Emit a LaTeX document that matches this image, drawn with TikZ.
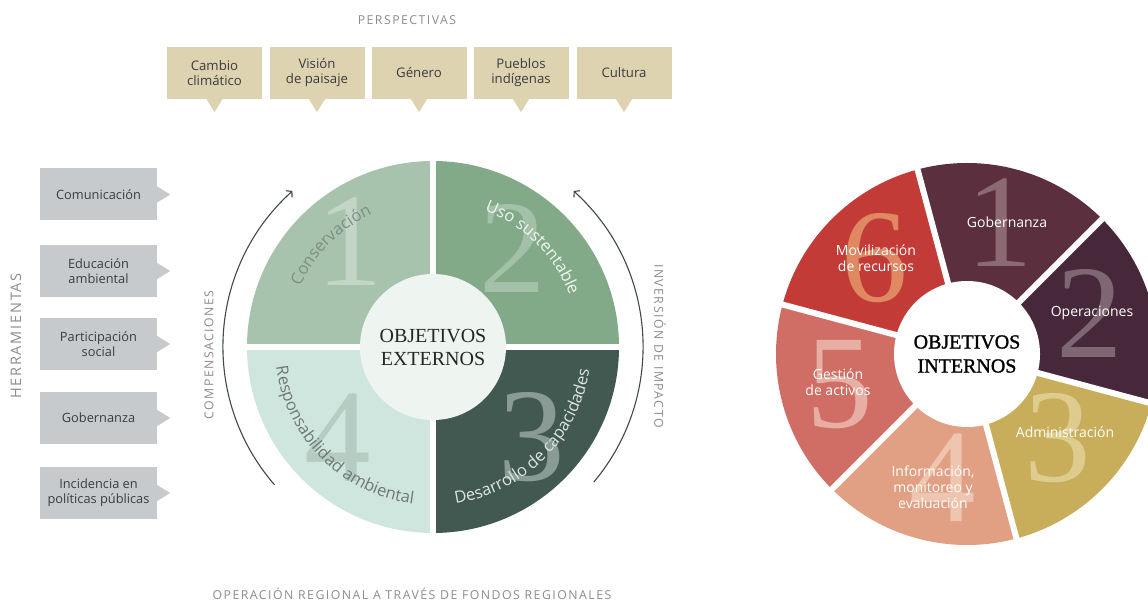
\documentclass[tikz,border=0pt]{standalone}
\usepackage{fontspec}
\setsansfont{Open Sans}
\newfontfamily\capsfont[LetterSpace=12]{Open Sans}
\newfontfamily\objfont{Liberation Serif}
\newfontfamily\objboldfont[FakeBold=1.2]{Liberation Serif}
\usetikzlibrary{positioning,calc,decorations.text,arrows.meta}

\definecolor{persbg}{HTML}{DDD3B1}
\definecolor{toolbg}{HTML}{C6CACD}
\definecolor{boxtext}{HTML}{3C3C3C}
\definecolor{captiongray}{HTML}{8C8C8C}
\definecolor{arrowgray}{HTML}{3E4A45}
\definecolor{objtext}{HTML}{262626}
% external wheel
\definecolor{extA}{HTML}{A8C3AD}
\definecolor{extB}{HTML}{82AA89}
\definecolor{extC}{HTML}{425952}
\definecolor{extD}{HTML}{CFE6DE}
\definecolor{extmid}{HTML}{EEF5F1}
\definecolor{numA}{HTML}{C3D5C6}
\definecolor{numB}{HTML}{A3C0A8}
\definecolor{numC}{HTML}{8A9B95}
\definecolor{numD}{HTML}{B5CCC3}
\definecolor{txtA}{HTML}{7F8E84}
\definecolor{txtB}{HTML}{F0F5F0}
\definecolor{txtC}{HTML}{DDE5E1}
\definecolor{txtD}{HTML}{6F7873}
% internal wheel
\definecolor{intA}{HTML}{5B2F3D}
\definecolor{intB}{HTML}{47283A}
\definecolor{intC}{HTML}{C8AE5A}
\definecolor{intD}{HTML}{E1A083}
\definecolor{intE}{HTML}{D06E66}
\definecolor{intF}{HTML}{C23B37}
\definecolor{inumA}{HTML}{8B6A73}
\definecolor{inumB}{HTML}{7E6773}
\definecolor{inumC}{HTML}{DDCC8E}
\definecolor{inumD}{HTML}{EEC6B0}
\definecolor{inumE}{HTML}{E7AEA3}
\definecolor{inumF}{HTML}{E08862}

\tikzset{
  persbox/.style={fill=persbg, minimum width=95pt, minimum height=52pt, inner sep=0pt,
    align=center, text=boxtext, font=\sffamily\fontsize{13.2}{15}\selectfont},
  toolbox/.style={fill=toolbg, minimum width=117pt, minimum height=52pt, inner sep=0pt,
    align=center, text=boxtext, font=\sffamily\fontsize{12.8}{15}\selectfont},
  caption/.style={text=captiongray, inner sep=0pt, font=\capsfont\fontsize{12.3}{14}\selectfont},
  numeral/.style={inner sep=0pt, font=\objfont\fontsize{133}{133}\selectfont},
  intlabel/.style={inner sep=0pt, align=center, text=white, font=\sffamily\fontsize{14}{16}\selectfont},
  gap/.style={white, line width=6pt},
  arcarrow/.style={arrowgray, line width=1.1pt, -{Straight Barb[length=4pt,width=9pt]}}
}

\begin{document}
\begin{tikzpicture}[x=1pt,y=1pt]
\useasboundingbox (0,0) rectangle (1148,603);

% Perspectivas
\node[caption] (pers) at (407,583) {PERSPECTIVAS};
\node[persbox] (p1) at (214.5,530) {Cambio\\climático};
\node[persbox] (p2) at (317,530) {Visión\\de paisaje};
\node[persbox] (p3) at (419,530) {Género};
\node[persbox] (p4) at (521,530) {Pueblos\\indígenas};
\node[persbox] (p5) at (624,530) {Cultura};
\fill[persbg] ([xshift=-8]p1.south) -- ([yshift=-13]p1.south) -- ([xshift=8]p1.south) -- cycle;
\fill[persbg] ([xshift=-8]p2.south) -- ([yshift=-13]p2.south) -- ([xshift=8]p2.south) -- cycle;
\fill[persbg] ([xshift=-8]p3.south) -- ([yshift=-13]p3.south) -- ([xshift=8]p3.south) -- cycle;
\fill[persbg] ([xshift=-8]p4.south) -- ([yshift=-13]p4.south) -- ([xshift=8]p4.south) -- cycle;
\fill[persbg] ([xshift=-8]p5.south) -- ([yshift=-13]p5.south) -- ([xshift=8]p5.south) -- cycle;

% Herramientas
\node[caption, rotate=90, font=\capsfont\fontsize{14.5}{16}\selectfont] (herr) at (16,267) {HERRAMIENTAS};
\node[toolbox] (t1) at (98.5,408.5) {Comunicación};
\node[toolbox] (t2) at (98.5,332) {Educación\\ambiental};
\node[toolbox] (t3) at (98.5,259) {Participación\\social};
\node[toolbox] (t4) at (98.5,185) {Gobernanza};
\node[toolbox] (t5) at (98.5,110) {Incidencia en\\políticas públicas};
\fill[toolbg] ([yshift=8]t1.east) -- ([xshift=13]t1.east) -- ([yshift=-8]t1.east) -- cycle;
\fill[toolbg] ([yshift=8]t2.east) -- ([xshift=13]t2.east) -- ([yshift=-8]t2.east) -- cycle;
\fill[toolbg] ([yshift=8]t3.east) -- ([xshift=13]t3.east) -- ([yshift=-8]t3.east) -- cycle;
\fill[toolbg] ([yshift=8]t4.east) -- ([xshift=13]t4.east) -- ([yshift=-8]t4.east) -- cycle;
\fill[toolbg] ([yshift=8]t5.east) -- ([xshift=13]t5.east) -- ([yshift=-8]t5.east) -- cycle;

% Objetivos externos
\coordinate (L) at (433,256);
\fill[extA] (L) -- ++(180:186) arc[start angle=180, end angle=90, radius=186] -- cycle;
\fill[extB] (L) -- ++(90:186) arc[start angle=90, end angle=0, radius=186] -- cycle;
\fill[extC] (L) -- ++(0:186) arc[start angle=0, end angle=-90, radius=186] -- cycle;
\fill[extD] (L) -- ++(-90:186) arc[start angle=-90, end angle=-180, radius=186] -- cycle;
\node[numeral, text=numA] (e1) at (350,361) {1};
\node[numeral, text=numB] (e2) at (513,355) {2};
\node[numeral, text=numC] (e3) at (532,166) {3};
\node[numeral, text=numD] (e4) at (338,165) {4};
\draw[gap] ([xshift=-190]L) -- ([xshift=190]L);
\draw[gap] ([yshift=-190]L) -- ([yshift=190]L);
\node[circle, fill=extmid, minimum size=146pt, inner sep=0pt, align=center, text=objtext,
  font=\objfont\fontsize{20}{23}\selectfont] (ext) at (L) {OBJETIVOS\\EXTERNOS};

\path[decorate, decoration={text along path, text align=center, text color=txtA,
  text={|\sffamily\fontsize{16.5}{16.5}\selectfont|Conservación}}]
  (L) ++(180:146) arc[start angle=180, end angle=90, radius=146];
\path[decorate, decoration={text along path, text align=center, text color=txtB,
  text={|\sffamily\fontsize{16.5}{16.5}\selectfont|Uso sustentable}}]
  (L) ++(90:146) arc[start angle=90, end angle=0, radius=146];
\path[decorate, decoration={text along path, text align=center, text color=txtC,
  text={|\sffamily\fontsize{16.5}{16.5}\selectfont|Desarrollo de capacidades}}]
  (L) ++(-90:158) arc[start angle=-90, end angle=0, radius=158];
\path[decorate, decoration={text along path, text align=center, text color=txtD,
  text={|\sffamily\fontsize{16.5}{16.5}\selectfont|Responsabilidad ambiental}}]
  (L) ++(180:158) arc[start angle=180, end angle=270, radius=158];

\draw[arcarrow] (L) ++(221:210) arc[start angle=221, end angle=132, radius=210];
\draw[arcarrow] (L) ++(-40:210) arc[start angle=-40, end angle=48, radius=210];
\node[caption, rotate=90] (comp) at (209,248) {COMPENSACIONES};
\node[caption, rotate=-90] (inv) at (660,257) {INVERSIÓN DE IMPACTO};
\node[caption] (oper) at (412,9) {OPERACIÓN REGIONAL A TRAVÉS DE FONDOS REGIONALES};

% Objetivos internos
\coordinate (R) at (967,249);
\fill[intA] (R) -- ++(105:191) arc[start angle=105, end angle=45, radius=191] -- cycle;
\fill[intB] (R) -- ++(45:191) arc[start angle=45, end angle=-15, radius=191] -- cycle;
\fill[intC] (R) -- ++(-15:191) arc[start angle=-15, end angle=-75, radius=191] -- cycle;
\fill[intD] (R) -- ++(-75:191) arc[start angle=-75, end angle=-135, radius=191] -- cycle;
\fill[intE] (R) -- ++(-135:191) arc[start angle=-135, end angle=-195, radius=191] -- cycle;
\fill[intF] (R) -- ++(165:191) arc[start angle=165, end angle=105, radius=191] -- cycle;
\node[numeral, text=inumA] (i1) at (1000,380) {1};
\node[numeral, text=inumB] (i2) at (1090,290) {2};
\node[numeral, text=inumC] (i3) at (1058,165) {3};
\node[numeral, text=inumD] (i4) at (943,125) {4};
\node[numeral, text=inumE] (i5) at (840,218) {5};
\node[numeral, text=inumF] (i6) at (875,345) {6};
\draw[gap] (R) -- ++(105:196) (R) -- ++(45:196) (R) -- ++(-15:196)
  (R) -- ++(-75:196) (R) -- ++(-135:196) (R) -- ++(165:196);
\node[circle, fill=white, minimum size=146pt, inner sep=0pt, align=center, text=black,
  font=\objboldfont\fontsize{20}{24}\selectfont] (int) at (R) {OBJETIVOS\\INTERNOS};
\node[intlabel] (l1) at (1007,381) {Gobernanza};
\node[intlabel] (l2) at (1092,290) {Operaciones};
\node[intlabel] (l3) at (1065,171) {Administración};
\node[intlabel] (l4) at (933,116) {Información,\\monitoreo y\\evaluación};
\node[intlabel] (l5) at (838,221) {Gestión\\de activos};
\node[intlabel] (l6) at (876,345) {Movilización\\de recursos};
\end{tikzpicture}
\end{document}
